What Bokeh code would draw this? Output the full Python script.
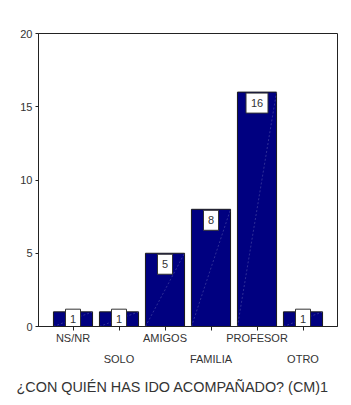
from bokeh.plotting import figure
from bokeh.models import FixedTicker, LinearAxis, Range1d, Title
from bokeh.core.properties import value
from bokeh.embed import file_html
from bokeh.resources import INLINE

categories = ["NS/NR", "SOLO", "AMIGOS", "FAMILIA", "PROFESOR", "OTRO"]
counts = [1, 1, 5, 8, 16, 1]
y_ticks = [0, 5, 10, 15, 20]
title_text = "¿CON QUIÉN HAS IDO ACOMPAÑADO? (CM)1"

FONT = "Liberation Sans"
xs = list(range(len(categories)))
bar_w = 0.85

p = figure(width=351, height=405, output_backend="svg", toolbar_location=None,
           x_range=Range1d(-0.75, len(categories) - 0.25), y_range=Range1d(0, 20),
           x_axis_location=None, y_axis_location=None,
           min_border_left=38, min_border_right=14, min_border_top=33, min_border_bottom=79)
p.xgrid.visible = False
p.ygrid.visible = False
p.outline_line_color = "#222222"
p.outline_line_width = 1
p.background_fill_color = "white"
p.border_fill_color = "white"

# Bars
p.vbar(x=xs, top=counts, bottom=0, width=bar_w, fill_color="#000080", line_color="#1a1a1a", line_width=1)

# faint diagonal rendering artifacts
p.segment(x0=[x - bar_w / 2 for x in xs], y0=[0] * len(xs),
          x1=[x + bar_w / 2 for x in xs], y1=counts,
          line_color="#7070b8", line_width=0.7, line_dash="2 2", line_alpha=0.6)

# Value label boxes
label_y = [c - 0.75 if c > 1 else 0.5 for c in counts]
label_txt = [str(c) for c in counts]
box_w = [8 + 7 * len(t) for t in label_txt]
p.rect(x=xs, y=label_y, width=box_w, height=20, width_units="screen", height_units="screen",
       fill_color="white", line_color="#333333", line_width=1)
p.text(x=xs, y=label_y, text=label_txt, text_align="center", text_baseline="middle",
       text_font=value(FONT), text_font_size="11px", text_color="#333333")

# Y axis
yax = LinearAxis(ticker=FixedTicker(ticks=y_ticks))
yax.axis_line_color = "#222222"
yax.major_tick_line_color = "#222222"
yax.major_tick_out = 3
yax.major_tick_in = 0
yax.minor_tick_line_color = None
yax.major_label_text_font = FONT
yax.major_label_text_font_size = "11px"
yax.major_label_text_color = "#333333"
yax.major_label_standoff = 3
p.add_layout(yax, "left")

# X axis (staggered labels in two rows)
row1 = {i: (c if i % 2 == 0 else "") for i, c in enumerate(categories)}
row2 = {i: (c if i % 2 == 1 else "") for i, c in enumerate(categories)}
xax1 = LinearAxis(ticker=FixedTicker(ticks=xs), major_label_overrides=row1)
xax1.axis_line_color = "#222222"
xax1.major_tick_line_color = "#222222"
xax1.major_tick_out = 4
xax1.major_tick_in = 0
xax1.minor_tick_line_color = None
xax1.major_label_text_font = FONT
xax1.major_label_text_font_size = "11px"
xax1.major_label_text_color = "#333333"
xax1.major_label_standoff = 1
p.add_layout(xax1, "below")

xax2 = LinearAxis(ticker=FixedTicker(ticks=xs), major_label_overrides=row2)
xax2.axis_line_color = None
xax2.major_tick_line_color = None
xax2.minor_tick_line_color = None
xax2.major_label_text_font = FONT
xax2.major_label_text_font_size = "11px"
xax2.major_label_text_color = "#333333"
xax2.major_label_standoff = 0
p.add_layout(xax2, "below")

t = Title(text=title_text, align="left", offset=-22, text_font=FONT, text_font_size="14.4px",
          text_font_style="normal", text_color="#333333", standoff=18)
p.add_layout(t, "below")

open("out.html", "w").write(file_html(p, INLINE))
